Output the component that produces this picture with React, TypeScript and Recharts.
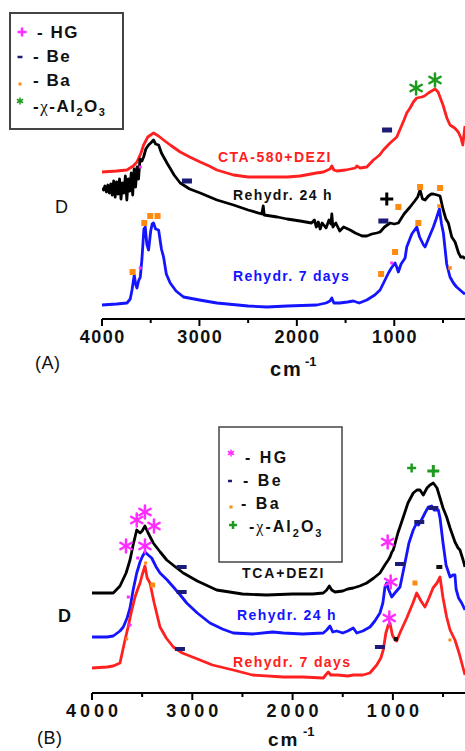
import React from 'react';
import { ComposedChart, Line, Scatter, XAxis, YAxis } from 'recharts';

// wavenumber (cm-1) / offset absorbance (arbitrary units)
const ticksCm = [4000, 3500, 3000, 2500, 2000, 1500, 1000, 500];

// ---- panel A ----
const ctaDezi: [number, number][] = [
  [4000, 147], [3850, 148], [3744, 149], [3680, 153], [3641, 157], [3600, 166], [3573, 174], [3530, 182],
  [3471, 186], [3420, 183], [3368, 179], [3300, 174], [3197, 167], [3100, 162], [2992, 157], [2900, 153],
  [2821, 149], [2650, 144], [2500, 142], [2308, 142], [2100, 142], [1966, 143], [1800, 146], [1727, 147],
  [1660, 150], [1641, 153], [1620, 149], [1590, 148], [1500, 149], [1400, 151], [1385, 153], [1350, 151],
  [1282, 152], [1214, 159], [1150, 164], [1112, 169], [1043, 176], [974, 182], [900, 199], [872, 206],
  [838, 211], [804, 217], [769, 221], [718, 222], [690, 223], [650, 226], [599, 229], [581, 230],
  [550, 227], [500, 214], [460, 201], [428, 194], [380, 191], [343, 187], [315, 181], [297, 174],
  [285, 184], [274, 193],
];

const rehydr24A: [number, number][] = [
  [4000, 131], [3985, 129], [3970, 133], [3955, 127], [3940, 134], [3925, 126], [3910, 135], [3895, 124],
  [3880, 138], [3865, 122], [3850, 137], [3835, 125], [3820, 140], [3805, 120], [3790, 136], [3775, 126],
  [3760, 143], [3745, 119], [3730, 140], [3715, 128], [3700, 146], [3685, 124], [3670, 150], [3655, 132],
  [3640, 152], [3625, 140], [3610, 160], [3590, 158], [3573, 162], [3550, 170], [3522, 174], [3500, 176],
  [3471, 179], [3450, 175], [3419, 174], [3390, 166], [3333, 156], [3260, 144], [3197, 136], [3100, 130],
  [2992, 126], [2820, 119], [2650, 114], [2500, 109], [2360, 105], [2345, 113], [2335, 104], [2200, 102],
  [2100, 100], [1966, 98], [1850, 96], [1820, 99], [1800, 92], [1780, 97], [1760, 90], [1740, 96],
  [1700, 91], [1670, 99], [1650, 95], [1641, 105], [1630, 92], [1600, 96], [1560, 88], [1520, 92],
  [1453, 89], [1400, 86], [1330, 83], [1282, 83], [1230, 85], [1180, 86], [1146, 87], [1100, 92],
  [1043, 96], [1000, 95], [958, 96], [900, 105], [838, 112], [790, 118], [760, 122], [735, 129],
  [710, 120], [684, 119], [650, 123], [620, 125], [599, 125], [560, 124], [530, 123], [500, 110],
  [470, 100], [445, 96], [410, 82], [376, 77], [340, 66], [318, 62], [290, 62], [274, 60],
];

const rehydr7A: [number, number][] = [
  [4000, 14], [3850, 15], [3744, 16], [3710, 20], [3692, 29], [3669, 44], [3655, 35], [3641, 31],
  [3625, 38], [3607, 42], [3590, 60], [3570, 90], [3556, 92], [3540, 75], [3522, 69], [3500, 88],
  [3485, 95], [3471, 96], [3450, 90], [3419, 89], [3390, 70], [3368, 62], [3340, 45], [3300, 36],
  [3240, 28], [3163, 22], [3000, 19], [2821, 16], [2500, 13], [2308, 12], [2100, 13], [1795, 14],
  [1700, 16], [1660, 18], [1641, 21], [1620, 16], [1560, 16], [1480, 17], [1420, 18], [1360, 16],
  [1282, 19], [1200, 24], [1146, 29], [1100, 38], [1060, 46], [1030, 51], [992, 56], [975, 52],
  [958, 47], [930, 55], [889, 61], [872, 72], [820, 85], [769, 92], [740, 82], [700, 74],
  [684, 72], [650, 80], [599, 92], [570, 100], [537, 110], [515, 95], [496, 86], [462, 55],
  [428, 42], [393, 36], [360, 32], [325, 29], [290, 26], [274, 25],
];

// band assignments: HG, Be, Ba, chi-Al2O3 (lower case = small mark)
const marksA: [number, number, string][] = [
  [776, 231, 'Al'], [582, 239, 'Al'],
  [1074, 189, 'Be'], [3128, 138, 'Be'], [1112, 98, 'Be'],
  [1077, 120, 'X'],
  [958, 112, 'Ba'], [735, 132, 'Ba'], [530, 131, 'Ba'], [753, 96, 'Ba'], [992, 67, 'Ba'],
  [1135, 45, 'Ba'], [3686, 47, 'Ba'], [3566, 96, 'Ba'], [3505, 103, 'Ba'], [3430, 103, 'Ba'],
  [541, 113, 'ba'], [428, 51, 'ba'],
  [3607, 152, 'hg'], [3607, 51, 'hg'], [1026, 56, 'hg'],
];

// ---- panel B ----
const tcaDezi: [number, number][] = [
  [4000, 100], [3900, 100], [3788, 100], [3721, 107], [3660, 120], [3621, 133], [3590, 148], [3554, 163],
  [3521, 160], [3500, 162], [3472, 167], [3440, 160], [3389, 150], [3320, 141], [3255, 133], [3180, 127],
  [3090, 120], [2950, 112], [2757, 103], [2500, 99], [2258, 98], [2000, 99], [1800, 99], [1694, 100],
  [1660, 103], [1634, 107], [1610, 103], [1577, 101], [1500, 102], [1450, 104], [1395, 105], [1330, 107],
  [1261, 110], [1190, 115], [1129, 120], [1080, 128], [1046, 133], [1029, 136], [1010, 141], [996, 143],
  [950, 160], [896, 176], [850, 190], [797, 200], [760, 203], [730, 203], [697, 198], [660, 205],
  [630, 208], [597, 210], [560, 205], [530, 195], [500, 185], [464, 176], [430, 165], [381, 151],
  [350, 145], [331, 143], [300, 133], [281, 126],
];

const rehydr24B: [number, number][] = [
  [4000, 56], [3850, 56], [3788, 57], [3721, 62], [3688, 66], [3650, 75], [3621, 85], [3590, 103],
  [3554, 120], [3521, 131], [3500, 136], [3472, 141], [3440, 138], [3405, 135], [3360, 126], [3322, 120],
  [3250, 113], [3189, 106], [3120, 98], [3056, 90], [2950, 80], [2824, 70], [2700, 64], [2592, 60],
  [2400, 59], [2200, 61], [2093, 60], [1900, 59], [1694, 60], [1660, 63], [1627, 67], [1600, 61],
  [1560, 62], [1500, 60], [1450, 62], [1395, 65], [1360, 60], [1300, 62], [1228, 66], [1180, 72],
  [1129, 80], [1100, 90], [1079, 106], [1062, 110], [1045, 104], [1012, 96], [980, 100], [929, 106],
  [880, 130], [840, 150], [797, 163], [763, 170], [745, 168], [720, 172], [680, 180], [647, 186],
  [613, 187], [590, 183], [547, 183], [530, 175], [500, 150], [470, 128], [430, 116], [400, 118],
  [381, 118], [370, 104], [345, 95], [314, 90], [281, 83],
];

const rehydr7B: [number, number][] = [
  [4000, 25], [3850, 26], [3788, 27], [3721, 30], [3671, 53], [3640, 66], [3610, 80], [3571, 96],
  [3540, 105], [3521, 110], [3500, 118], [3472, 127], [3450, 115], [3422, 110], [3380, 90], [3322, 66],
  [3260, 55], [3189, 46], [3100, 40], [2923, 33], [2800, 28], [2592, 23], [2400, 18], [2093, 16],
  [1900, 16], [1694, 15], [1670, 18], [1644, 21], [1620, 18], [1550, 18], [1450, 17], [1395, 18],
  [1300, 18], [1230, 20], [1161, 28], [1120, 35], [1096, 43], [1070, 60], [1046, 68], [1029, 70],
  [1005, 58], [979, 53], [962, 52], [930, 60], [862, 75], [800, 90], [763, 100], [720, 92],
  [680, 86], [640, 95], [600, 105], [560, 110], [530, 116], [500, 95], [464, 76], [430, 63],
  [381, 53], [340, 40], [300, 25], [281, 18],
];

const marksB: [number, number, string][] = [
  [3554, 173, 'HG'], [3472, 181, 'HG'], [3382, 167, 'HG'], [3661, 147, 'HG'], [3472, 147, 'HG'],
  [1052, 151, 'HG'], [1022, 111, 'HG'], [1036, 75, 'HG'],
  [3544, 135, 'hg'], [3638, 96, 'hg'], [3621, 68, 'hg'],
  [813, 225, 'al'], [597, 222, 'Al'],
  [3106, 126, 'Be'], [3106, 101, 'Be'], [929, 129, 'Be'], [737, 171, 'Be'], [597, 185, 'Be'],
  [3123, 44, 'Be'], [1129, 46, 'Be'],
  [537, 126, 'K'], [969, 54, 'k'],
  [780, 110, 'Ba'], [3395, 108, 'Ba'], [3465, 130, 'ba'], [3654, 54, 'ba'], [431, 53, 'ba'],
];

const RED = '#ff2020';
const BLUE = '#1414ff';
const NAVY = '#1c1c78';
const MAGENTA = '#ff2cff';
const ORANGE = '#ff8a10';
const GREEN = '#1e9a1e';
const SANS = '"Liberation Sans", Arial, sans-serif';

const toPts = (arr: [number, number][]) => arr.map(([x, y]) => ({ x, y }));
const toMarks = (arr: [number, number, string][]) => arr.map(([x, y, k]) => ({ x, y, k }));

const star = (cx: number, cy: number, r: number, c: string, sw: number) => (
  <g stroke={c} strokeWidth={sw} strokeLinecap="round">
    <line x1={cx} y1={cy - r} x2={cx} y2={cy + r} />
    <line x1={cx - r * 0.87} y1={cy - r * 0.5} x2={cx + r * 0.87} y2={cy + r * 0.5} />
    <line x1={cx - r * 0.87} y1={cy + r * 0.5} x2={cx + r * 0.87} y2={cy - r * 0.5} />
  </g>
);
const plus = (cx: number, cy: number, r: number, c: string, sw: number) => (
  <g stroke={c} strokeWidth={sw}>
    <line x1={cx - r} y1={cy} x2={cx + r} y2={cy} />
    <line x1={cx} y1={cy - r} x2={cx} y2={cy + r} />
  </g>
);
const box = (cx: number, cy: number, w: number, h: number, c: string) => (
  <rect x={cx - w / 2} y={cy - h / 2} width={w} height={h} fill={c} />
);

const markA = (p: any) => {
  const { cx, cy, payload } = p;
  switch (payload.k) {
    case 'Al': return star(cx, cy, 6.5, GREEN, 2.5);
    case 'Be': return box(cx, cy, 10, 5, NAVY);
    case 'X': return plus(cx, cy, 6.5, '#000', 3);
    case 'Ba': return box(cx, cy, 6, 6, ORANGE);
    case 'ba': return box(cx, cy, 3.5, 3.5, ORANGE);
    default: return box(cx, cy, 3, 3, MAGENTA);
  }
};

const markB = (p: any) => {
  const { cx, cy, payload } = p;
  switch (payload.k) {
    case 'HG': return star(cx, cy, 6.5, MAGENTA, 2.5);
    case 'Al': return plus(cx, cy, 6, GREEN, 3);
    case 'al': return plus(cx, cy, 4.5, GREEN, 2.5);
    case 'Be': return box(cx, cy, 10, 4, NAVY);
    case 'K': return box(cx, cy, 6, 4, '#111');
    case 'k': return box(cx, cy, 4, 4, '#111');
    case 'Ba': return box(cx, cy, 5, 5, ORANGE);
    case 'ba': return box(cx, cy, 3, 3, ORANGE);
    default: return box(cx, cy, 3, 3, MAGENTA);
  }
};

const CmTick = (props: any) => {
  const { x, y, payload, ls } = props;
  const v = payload.value;
  const major = v % 1000 === 0;
  return (
    <g>
      <line x1={x} x2={x} y1={y} y2={y + (major ? 7 : 4)} stroke="#000" strokeWidth={2} />
      {major && (
        <text x={x + ls / 2} y={y + 24} textAnchor="middle" fontFamily={SANS} fontWeight="bold"
          fontSize={18} letterSpacing={ls} fill="#111">
          {v}
        </text>
      )}
    </g>
  );
};

interface PanelProps {
  w: number; h: number; left: number; top: number; axisH: number; ymax: number; xmin: number;
  ls: number; series: { pts: [number, number][]; color: string }[];
  marks: [number, number, string][]; shape: (p: any) => any;
}

const Panel = ({ w, h, left, top, axisH, ymax, xmin, ls, series, marks, shape }: PanelProps) => (
  <ComposedChart width={w} height={h} margin={{ top, right: 0, left, bottom: 0 }}>
    <XAxis type="number" dataKey="x" domain={[xmin, 4000]} reversed allowDataOverflow
      ticks={ticksCm} interval={0} height={axisH} tickSize={0} tickMargin={0}
      axisLine={{ stroke: '#000', strokeWidth: 2 }} tickLine={false}
      tick={(p: any) => <CmTick {...p} ls={ls} />} />
    <YAxis type="number" domain={[0, ymax]} hide allowDataOverflow />
    {series.map((s, i) => (
      <Line key={i} data={toPts(s.pts)} dataKey="y" type="linear" stroke={s.color} strokeWidth={2.8}
        dot={false} isAnimationActive={false} strokeLinejoin="round" />
    ))}
    <Scatter data={toMarks(marks)} dataKey="y" shape={shape} isAnimationActive={false} />
  </ComposedChart>
);

const T = (p: any) => (
  <text fontFamily={SANS} fontWeight="bold" fill="#111" {...p} />
);

export default function App() {
  return (
    <div style={{ position: 'absolute', left: 0, top: 0, width: 465, height: 751, background: '#fff', overflow: 'hidden' }}>
      <div style={{ position: 'absolute', left: 0, top: 0 }}>
        <Panel w={465} h={360} left={102} top={39} axisH={41} ymax={280} xmin={274} ls={1.5}
          series={[{ pts: ctaDezi, color: RED }, { pts: rehydr24A, color: '#000' }, { pts: rehydr7A, color: BLUE }]}
          marks={marksA} shape={markA} />
      </div>
      <div style={{ position: 'absolute', left: 0, top: 370 }}>
        <Panel w={465} h={380} left={92} top={70} axisH={57} ymax={253} xmin={281} ls={4}
          series={[{ pts: tcaDezi, color: '#000' }, { pts: rehydr24B, color: BLUE }, { pts: rehydr7B, color: RED }]}
          marks={marksB} shape={markB} />
      </div>
      <svg width={465} height={751} style={{ position: 'absolute', left: 0, top: 0, pointerEvents: 'none' }}>
        {/* legend A */}
        <rect x={10} y={13} width={113} height={116} fill="#fff" stroke="#444" strokeWidth={2} />
        {plus(22, 32, 4.5, MAGENTA, 2.5)}
        <T x={37} y={38} fontSize={17} letterSpacing={1.5}>- HG</T>
        {box(20, 57, 5, 2.5, NAVY)}
        <T x={33} y={62} fontSize={17} letterSpacing={1.5}>- Be</T>
        {box(20, 84, 3, 3, ORANGE)}
        <T x={33} y={86} fontSize={17} letterSpacing={1.5}>- Ba</T>
        {star(20, 101, 3, GREEN, 1.5)}
        <T x={33} y={112} fontSize={17} letterSpacing={1.5}>
          -<tspan fontFamily='"Liberation Serif", serif' fontWeight="normal">χ</tspan>-Al
          <tspan fontSize={11} dy={4}>2</tspan><tspan dy={-4}>O</tspan><tspan fontSize={11} dy={4}>3</tspan>
        </T>

        {/* curve labels A */}
        <T x={218} y={162} fontSize={14} letterSpacing={1.5} fill={RED}>CTA-580+DEZI</T>
        <T x={233} y={200} fontSize={14} letterSpacing={1.4} fill="#111">Rehydr. 24 h</T>
        <T x={233} y={281} fontSize={14} letterSpacing={1.3} fill={BLUE}>Rehydr. 7 days</T>
        <text x={55} y={213} fontFamily={SANS} fontSize={18} fill="#111">D</text>
        <text x={35} y={369} fontFamily={SANS} fontSize={18} letterSpacing={0.5} fill="#111">(A)</text>
        <T x={270} y={376} fontSize={20} letterSpacing={2}>cm</T>
        <T x={305} y={366} fontSize={13}>-1</T>

        {/* legend B */}
        <rect x={219} y={427} width={123} height={135} fill="#fff" stroke="#444" strokeWidth={1.5} />
        {star(231, 453, 3, MAGENTA, 1.5)}
        <T x={245} y={463} fontSize={16} letterSpacing={2.5}>- HG</T>
        {box(230, 481, 4, 2.5, NAVY)}
        <T x={243} y={486} fontSize={16} letterSpacing={2.5}>- Be</T>
        {box(231, 507, 3, 3, ORANGE)}
        <T x={241} y={509} fontSize={16} letterSpacing={2.5}>- Ba</T>
        {plus(233, 525, 4, GREEN, 2.5)}
        <T x={249} y={532} fontSize={16} letterSpacing={2}>
          -<tspan fontFamily='"Liberation Serif", serif' fontWeight="normal">χ</tspan>-Al
          <tspan fontSize={11} dy={5}>2</tspan><tspan dy={-5}>O</tspan><tspan fontSize={11} dy={5}>3</tspan>
        </T>

        {/* curve labels B */}
        <T x={242} y={578} fontSize={14} letterSpacing={1.8} fill="#111">TCA+DEZI</T>
        <T x={237} y={620} fontSize={14} letterSpacing={1.4} fill={BLUE}>Rehydr. 24 h</T>
        <T x={233} y={667} fontSize={14} letterSpacing={1.4} fill={RED}>Rehydr. 7 days</T>
        <T x={58} y={622} fontSize={18}>D</T>
        <text x={37} y={744} fontFamily={SANS} fontSize={18} letterSpacing={0.5} fill="#111">(B)</text>
        <T x={268} y={746} fontSize={19} letterSpacing={2}>cm</T>
        <T x={303} y={736} fontSize={13}>-1</T>
      </svg>
    </div>
  );
}
